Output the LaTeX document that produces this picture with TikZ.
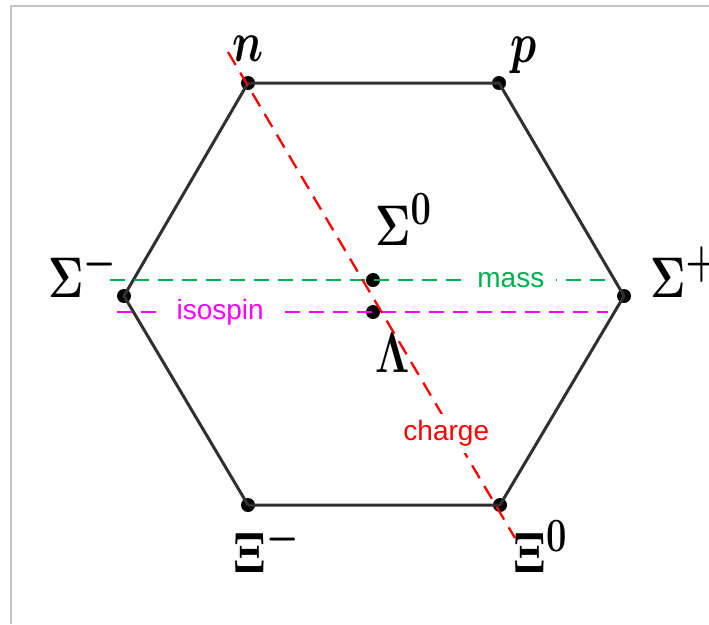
\documentclass[tikz,border=0pt]{standalone}
\usepackage{amsmath}
\usepackage{fontspec}
\setsansfont{Liberation Sans}
\usetikzlibrary{positioning}
\definecolor{hexLine}{HTML}{303030}
\definecolor{massGreen}{HTML}{00B050}
\definecolor{isoMagenta}{HTML}{FF00FF}
\definecolor{chargeRed}{HTML}{FF0000}
\definecolor{frameGray}{HTML}{C4C4C4}

\begin{document}
\begin{tikzpicture}[
  x=1pt, y=-1pt,
  dot/.style={circle, fill=black, inner sep=0pt, minimum size=14pt},
  hex/.style={draw=hexLine, line width=3pt, line join=round},
  lbl/.style={inner sep=0pt, anchor=base west, xscale=1.75, yscale=2.3, font=\Huge\boldmath},
  axis/.style={line width=2.3pt, dash pattern=on 15pt off 9pt},
  axlbl/.style={fill=white, inner xsep=12pt, inner ysep=2pt, font=\sffamily\fontsize{28}{32}\selectfont}
]
  \useasboundingbox (0,0) rectangle (709,624);
  \draw[frameGray, line width=2pt] (11,624) -- (11,6) -- (709,6);

  % baryon octet
  \node[dot] (n) at (248,83) {};
  \node[dot] (p) at (499,83) {};
  \node[dot] (sigp) at (624,296) {};
  \node[dot] (xiz) at (500,505) {};
  \node[dot] (xim) at (248,505) {};
  \node[dot] (sigm) at (124,296) {};
  \node[dot] (sigz) at (373,280) {};
  \node[dot] (lam) at (373,312) {};

  \draw[hex] (n.center) -- (p.center) -- (sigp.center) -- (xiz.center)
    -- (xim.center) -- (sigm.center) -- cycle;

  \node[lbl] (nlbl) at (232,61) {$n$};
  \node[lbl] (plbl) at (510,62) {$p$};
  \node[lbl] (sigzlbl) at (375,245) {$\Sigma^0$};
  \node[lbl] (lamlbl) at (375,372) {$\Lambda$};
  \node[lbl] (sigmlbl) at (48,297) {$\Sigma^-$};
  \node[lbl] (sigplbl) at (650,297) {$\Sigma^+$};
  \node[lbl] (ximlbl) at (233,572) {$\Xi^-$};
  \node[lbl] (xizlbl) at (513,572) {$\Xi^0$};

  % axes
  \coordinate (massL) at (110,280);
  \coordinate (massR) at (611,280);
  \coordinate (isoL) at (117,312);
  \coordinate (isoR) at (608,312);
  \coordinate (chgT) at (228,52);
  \coordinate (chgB) at (515,538);

  \draw[axis, massGreen] (massL) -- node[axlbl, pos=0.8, text=massGreen] {mass} (massR);
  \draw[axis, isoMagenta] (isoL) -- node[axlbl, pos=0.21, inner xsep=20pt, text=isoMagenta] {isospin} (isoR);
  \draw[axis, chargeRed] (chgT) -- node[axlbl, pos=0.785, xshift=-7pt, inner xsep=2pt, inner ysep=6pt, text=chargeRed] {charge} (chgB);
\end{tikzpicture}
\end{document}
